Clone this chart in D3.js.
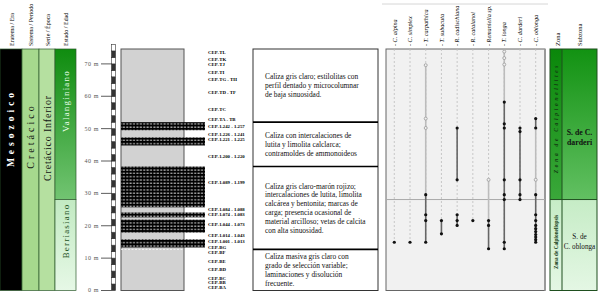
<!DOCTYPE html>
<html>
<head>
<meta charset="utf-8">
<script src="https://cdn.jsdelivr.net/npm/d3@7"></script>
<style>
  body { margin: 0; background: #fff; }
  svg { display: block; }
  text { font-family: "Liberation Serif", "DejaVu Serif", serif; }
</style>
</head>
<body>
<svg id="chart" width="600" height="296"></svg>
<script>
// ---- data ----
const depthTicks = [0, 10, 20, 30, 40, 50, 60, 70];

// black beds (top, base) in metres
const bedTops = [52, 47.3, 38.3, 24.1, 21.9, 15.8];
const bedBases = [49.5, 44.8, 25.7, 22.6, 17.9, 13.3];

const sampleLabels = [
  "CEP-TL", "CEP-TK", "CEP-TJ", "CEP-TI", "CEP-TG - TH", "CEP-TD - TF", "CEP-TC", "CEP-TA - TB",
  "CEP-1.242 - 1.257", "CEP-1.226 - 1.241", "CEP-1.221 - 1.225", "CEP-1.200 - 1.220",
  "CEP-1.089 - 1.199", "CEP-1.084 - 1.088", "CEP-1.074 - 1.083", "CEP-1.044 - 1.073",
  "CEP-1.014 - 1.043", "CEP-1.001 - 1.013", "CEP-BG", "CEP-BF", "CEP-BE", "CEP-BD",
  "CEP-BC", "CEP-BB", "CEP-BA"
];
const sampleDepths = [73.7, 71.5, 69.9, 67.5, 65.1, 61.3, 55.9, 52.9, 50.7, 48.1, 46.6, 41.6,
  33.3, 25.2, 23.6, 20.4, 17.1, 15.1, 13.3, 11.8, 9.1, 6.4, 3.9, 2.4, 1.0];

const unitBounds = [74.6, 52, 38.3, 12.7, 0];
const unitTexts = [
  ["Caliza gris claro; estilolitas con", "perfil dentado y microcolumnar", "de baja sinuosidad."],
  ["Caliza con intercalaciones de", "lutita y limolita calclarca;", "contramoldes de ammonoideos"],
  ["Caliza gris claro-marón rojizo;", "intercalaciones de lutita, limolita", "calcárea y bentonita; marcas de",
   "carga; presencia ocasional de", "material arcilloso; vetas de calcita", "con alta sinuosidad."],
  ["Caliza masiva gris claro con", "grado de selección variable;", "laminaciones y disolución", "frecuente."]
];

const taxa = ["C. alpina", "C. simplex", "T. carpathica", "T. subacuta", "R. cadischiana",
  "R. catalanoi", "Remaniella sp.", "T. longa", "C. darderi", "C. oblonga"];
const solidDots = [
  [14.9], [14.9], [29.6, 23.4, 21.6, 14.9], [21.6, 17.5], [50.2, 34.2, 23.4, 21.6, 20.1], [21.6],
  [21.6, 20.1, 12.9], [58.2, 51.5, 50.2, 34.2, 29.6, 28.1, 14.9, 12.9], [50.2, 49.1, 34.2, 29.6, 28.1],
  [53.1, 50.2, 29.6, 23.4, 21.6, 20.1, 19.1, 18.2, 17.3, 16.5, 15.7, 14.9]
];
const openDots = [[], [], [69.6, 53.1, 50.2], [], [], [], [34.2], [73.8, 71.8, 69.8], [], [34.2]];
const darkRanges = [[], [], [[29.6, 14.9]], [[21.6, 17.5]], [[50.2, 34.2], [23.4, 20.1]], [],
  [[21.6, 12.9]], [[58.2, 12.9]], [[50.2, 28.1]], [[53.1, 50.2], [29.6, 14.9]]];
const lightRanges = [[], [], [[69.6, 29.6]], [], [], [], [[34.2, 21.6]], [[73.8, 58.2]], [], [[50.2, 29.6]]];

const zoneBoundary = 28.1;
const stageBoundary = 28.1;

// ---- layout ----
const svg = d3.select("#chart");
const yTop = 49, yBot = 290.5;
const y = d3.scaleLinear().domain([0, 74.6]).range([yBot, yTop]);

const defs = svg.append("defs");
const pat = defs.append("pattern").attr("id", "bed")
  .attr("width", 3.4).attr("height", 3.3).attr("patternUnits", "userSpaceOnUse");
pat.append("rect").attr("width", 3.4).attr("height", 3.3).attr("fill", "#000");
pat.append("rect").attr("x", 0.4).attr("y", 1.3).attr("width", 2).attr("height", 0.9).attr("fill", "#fff");

function vgrad(id, c1, c2) {
  const g = defs.append("linearGradient").attr("id", id)
    .attr("x1", 0).attr("y1", 0).attr("x2", 0).attr("y2", 1);
  g.append("stop").attr("offset", "0%").attr("stop-color", c1);
  g.append("stop").attr("offset", "100%").attr("stop-color", c2);
}
vgrad("valang", "#0f8c0f", "#72c472");
vgrad("berri", "#c2eac2", "#e6f8e6");
vgrad("zoneUp", "#0a870a", "#3aa83a");
vgrad("subUp", "#129212", "#62c062");
vgrad("pale", "#c6ecc6", "#e4f7e4");

// rotated text helper
function vtext(x, yy, str, opts) {
  const t = svg.append("text")
    .attr("transform", `translate(${x},${yy}) rotate(-90)`)
    .attr("text-anchor", opts.anchor || "middle")
    .attr("font-size", opts.size || 7)
    .attr("fill", opts.fill || "#000")
    .text(str);
  if (opts.anchor === "middle" || !opts.anchor) t.attr("dominant-baseline", "central");
  if (opts.weight) t.attr("font-weight", opts.weight);
  if (opts.spacing) t.attr("letter-spacing", opts.spacing);
  if (opts.style) t.attr("font-style", opts.style);
  return t;
}

// ---- chronostratigraphic columns ----
const cols = [
  { x0: 0, x1: 22, fill: "#000" },
  { x0: 22, x1: 39, fill: "#a6d98e" },
  { x0: 39, x1: 55, fill: "#b5e0a0" }
];
cols.forEach(c => svg.append("rect").attr("x", c.x0).attr("y", yTop)
  .attr("width", c.x1 - c.x0).attr("height", yBot - yTop)
  .attr("fill", c.fill).attr("stroke", "#2d5a2d").attr("stroke-width", 0.7));
svg.append("rect").attr("x", 55).attr("y", yTop).attr("width", 21)
  .attr("height", y(stageBoundary) - yTop).attr("fill", "url(#valang)")
  .attr("stroke", "#2d5a2d").attr("stroke-width", 0.7);
svg.append("rect").attr("x", 55).attr("y", y(stageBoundary)).attr("width", 21)
  .attr("height", yBot - y(stageBoundary)).attr("fill", "url(#berri)")
  .attr("stroke", "#2d5a2d").attr("stroke-width", 0.7);

[["Eratema / Era", 13.5], ["Sistema / Período", 33], ["Serie / Época", 49.5], ["Estado / Edad", 68]]
  .forEach(([s, x]) => vtext(x, 46, s, { anchor: "start", size: 6 }));

vtext(11, 128, "Mesozoico", { fill: "#fff", size: 9.5, weight: "bold", spacing: 4 });
vtext(30.5, 136, "Cretácico", { fill: "#111", size: 10, spacing: 3 });
vtext(47, 138, "Cretácico Inferior", { fill: "#111", size: 10, spacing: 0.8 });
vtext(65.5, 101, "Valanginiano", { fill: "#eaffea", size: 9, spacing: 1.2 });
vtext(65.5, 231, "Berriasiano", { fill: "#1d4f1d", size: 9, spacing: 1.2 });

// ---- scale bar ----
const rulerSteps = d3.range(0, 76, 2);
svg.selectAll(".rul").data(rulerSteps).enter().append("rect")
  .attr("x", 111.5).attr("width", 4)
  .attr("y", d => y(Math.min(d + 2, 76.1)))
  .attr("height", d => y(d) - y(Math.min(d + 2, 76.1)))
  .attr("fill", (d, i) => i % 2 ? "#fff" : "#333")
  .attr("stroke", "#333").attr("stroke-width", 0.6);
const ticks = svg.append("g").selectAll("g").data(depthTicks).enter().append("g");
ticks.append("line").attr("x1", 101).attr("x2", 111.5)
  .attr("y1", d => y(d)).attr("y2", d => y(d)).attr("stroke", "#333").attr("stroke-width", 0.8);
ticks.append("text").attr("x", 99).attr("y", d => y(d)).attr("dy", "0.33em")
  .attr("text-anchor", "end").attr("font-size", 6).attr("fill", "#555")
  .attr("letter-spacing", 0.6).text(d => `${d} m`);

// ---- lithology column ----
svg.append("rect").attr("x", 121).attr("y", yTop).attr("width", 63).attr("height", yBot - yTop)
  .attr("fill", "#d2d2d2").attr("stroke", "#555").attr("stroke-width", 1);
svg.selectAll(".bed").data(bedTops).enter().append("rect")
  .attr("x", 121).attr("width", 84)
  .attr("y", d => y(d)).attr("height", (d, i) => y(bedBases[i]) - y(d))
  .attr("fill", "url(#bed)");
svg.append("line").attr("x1", 121).attr("x2", 184)
  .attr("y1", y(12.7)).attr("y2", y(12.7))
  .attr("stroke", "#fff").attr("stroke-dasharray", "2,1.5").attr("stroke-width", 0.8);

svg.selectAll(".smp").data(sampleLabels).enter().append("text")
  .attr("x", 208).attr("y", (d, i) => y(sampleDepths[i])).attr("dy", "0.35em")
  .attr("font-size", 4.8).attr("font-weight", "bold").attr("fill", "#000")
  .text(d => d);

// ---- lithology descriptions ----
const descX0 = 253, descX1 = 378;
svg.append("rect").attr("x", descX0).attr("y", yTop).attr("width", descX1 - descX0)
  .attr("height", yBot - yTop).attr("fill", "#fff").attr("stroke", "#333").attr("stroke-width", 1);
unitBounds.slice(1, -1).forEach(b => svg.append("line")
  .attr("x1", descX0).attr("x2", descX1).attr("y1", y(b)).attr("y2", y(b))
  .attr("stroke", "#000").attr("stroke-width", 1.6));
unitTexts.forEach((lines, i) => {
  const mid = (y(unitBounds[i]) + y(unitBounds[i + 1])) / 2;
  const lh = 8.8;
  lines.forEach((ln, j) => svg.append("text")
    .attr("x", 265).attr("y", mid + (j - (lines.length - 1) / 2) * lh).attr("dy", "0.35em")
    .attr("font-size", 7.4).attr("fill", "#111").text(ln));
});

// ---- range chart ----
const rcX0 = 386, rcX1 = 545;
const x = d3.scalePoint().domain(taxa).range([394.3, 535.7]);
svg.append("line").attr("x1", rcX0 - 4).attr("x2", rcX1 + 3).attr("y1", 4).attr("y2", 4)
  .attr("stroke", "#ccc").attr("stroke-width", 0.8);
svg.append("rect").attr("x", rcX0).attr("y", yTop).attr("width", rcX1 - rcX0).attr("height", yBot - yTop)
  .attr("fill", "#f1f1f1").attr("stroke", "#666").attr("stroke-width", 1);
svg.append("line").attr("x1", rcX1).attr("x2", rcX1).attr("y1", yTop).attr("y2", yBot)
  .attr("stroke", "#999").attr("stroke-width", 2);

taxa.forEach((t, i) => {
  const cx = x(t);
  const lowest = d3.min(solidDots[i].concat(openDots[i]));
  svg.append("line").attr("x1", cx).attr("x2", cx).attr("y1", yTop).attr("y2", y(lowest))
    .attr("stroke", "#bdbdbd").attr("stroke-dasharray", "2,2").attr("stroke-width", 0.8);
  vtext(cx + 2.2, 46, "- " + t, { anchor: "start", size: 6.2, style: "italic" });
});

svg.append("line").attr("x1", rcX0).attr("x2", rcX1).attr("y1", y(zoneBoundary)).attr("y2", y(zoneBoundary))
  .attr("stroke", "#aaa").attr("stroke-width", 1);

taxa.forEach((t, i) => {
  const cx = x(t);
  lightRanges[i].forEach(([a, b]) => svg.append("line").attr("x1", cx).attr("x2", cx)
    .attr("y1", y(a)).attr("y2", y(b)).attr("stroke", "#bcbcbc").attr("stroke-width", 1.6));
  darkRanges[i].forEach(([a, b]) => svg.append("line").attr("x1", cx).attr("x2", cx)
    .attr("y1", y(a)).attr("y2", y(b)).attr("stroke", "#666").attr("stroke-width", 1.6));
  svg.selectAll(null).data(openDots[i]).enter().append("circle")
    .attr("cx", cx).attr("cy", d => y(d)).attr("r", 1.5)
    .attr("fill", "#f1f1f1").attr("stroke", "#999").attr("stroke-width", 0.8);
  svg.selectAll(null).data(solidDots[i]).enter().append("circle")
    .attr("cx", cx).attr("cy", d => y(d)).attr("r", 1.6).attr("fill", "#111");
});

// ---- biozones ----
const zX0 = 550, zX1 = 562, sX1 = 597;
svg.append("rect").attr("x", zX0).attr("y", yTop).attr("width", zX1 - zX0)
  .attr("height", y(zoneBoundary) - yTop).attr("fill", "url(#zoneUp)");
svg.append("rect").attr("x", zX1).attr("y", yTop).attr("width", sX1 - zX1)
  .attr("height", y(zoneBoundary) - yTop).attr("fill", "url(#subUp)");
svg.append("rect").attr("x", zX0).attr("y", y(zoneBoundary)).attr("width", sX1 - zX0)
  .attr("height", yBot - y(zoneBoundary)).attr("fill", "url(#pale)");
svg.append("rect").attr("x", zX0).attr("y", yTop).attr("width", sX1 - zX0).attr("height", yBot - yTop)
  .attr("fill", "none").attr("stroke", "#1f4f1f").attr("stroke-width", 1);
svg.append("line").attr("x1", zX1).attr("x2", zX1).attr("y1", yTop).attr("y2", yBot)
  .attr("stroke", "#1f4f1f").attr("stroke-width", 1);
svg.append("line").attr("x1", zX0).attr("x2", sX1).attr("y1", y(zoneBoundary)).attr("y2", y(zoneBoundary))
  .attr("stroke", "#1f4f1f").attr("stroke-width", 1);

vtext(560, 46, "Zona", { anchor: "start", size: 6.5 });
vtext(582, 46, "Subzona", { anchor: "start", size: 6.5 });

vtext(556, 118, "Zona de Calpionellites",
  { size: 5.5, weight: "bold", style: "italic", spacing: 2.7, fill: "#123a12" });
vtext(556, (y(zoneBoundary) + yBot) / 2 - 3, "Zona de Calpionellopsis",
  { size: 5.3, weight: "bold", fill: "#123a12" });

const subMidUp = 137;
const subMidLow = (y(zoneBoundary) + yBot) / 2 - 4;
[["S. de C.", -4.5], ["darderi", 5]].forEach(([s, dy]) => svg.append("text")
  .attr("x", (zX1 + sX1) / 2).attr("y", subMidUp + dy).attr("dy", "0.35em").attr("text-anchor", "middle")
  .attr("font-size", 7.8).attr("font-weight", "bold").attr("fill", "#111").text(s));
[["S. de", -4.5], ["C. oblonga", 5]].forEach(([s, dy]) => svg.append("text")
  .attr("x", (zX1 + sX1) / 2).attr("y", subMidLow + dy).attr("dy", "0.35em").attr("text-anchor", "middle")
  .attr("font-size", 7.2).attr("fill", "#111").text(s));
</script>
</body>
</html>
